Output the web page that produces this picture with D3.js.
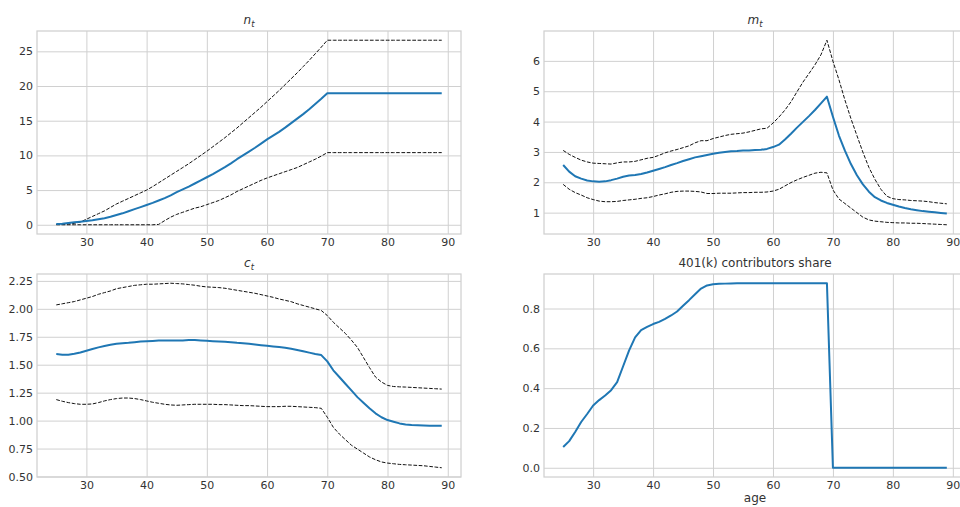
<!DOCTYPE html>
<html>
<head>
<meta charset="utf-8">
<script src="https://cdn.jsdelivr.net/npm/d3@7"></script>
<style>
  body { margin: 0; background: #fff; }
  svg { display: block; }
</style>
</head>
<body>
<div id="chart"></div>
<script>
// ages on the x axis (25 .. 89)
var ages = d3.range(25, 90);
var xTicks = [30, 40, 50, 60, 70, 80, 90];

// n_t : mean and bands
var nMean = [0.1, 0.15, 0.25, 0.35, 0.45,
  0.55, 0.65, 0.8, 0.95, 1.15,
  1.4, 1.65, 1.95, 2.25, 2.55,
  2.85, 3.15, 3.5, 3.85, 4.25,
  4.7, 5.1, 5.5, 5.95, 6.4,
  6.85, 7.3, 7.8, 8.3, 8.85,
  9.45, 10.0, 10.55, 11.1, 11.7,
  12.3, 12.85, 13.4, 14.0, 14.65,
  15.3, 15.95, 16.65, 17.4, 18.15,
  18.95, 18.95, 18.95, 18.95, 18.95,
  18.95, 18.95, 18.95, 18.95, 18.95,
  18.95, 18.95, 18.95, 18.95, 18.95,
  18.95, 18.95, 18.95, 18.95, 18.95];
var nUpper = [0.05, 0.08, 0.12, 0.2, 0.4,
  0.8, 1.2, 1.6, 2.0, 2.5,
  3.0, 3.4, 3.8, 4.2, 4.6,
  5.0, 5.5, 6.05, 6.6, 7.15,
  7.7, 8.25, 8.8, 9.4, 10.0,
  10.6, 11.25, 11.9, 12.55, 13.25,
  13.95, 14.7, 15.45, 16.2, 16.95,
  17.75, 18.55, 19.35, 20.2, 21.05,
  21.9, 22.8, 23.7, 24.65, 25.6,
  26.6, 26.6, 26.6, 26.6, 26.6,
  26.6, 26.6, 26.6, 26.6, 26.6,
  26.6, 26.6, 26.6, 26.6, 26.6,
  26.6, 26.6, 26.6, 26.6, 26.6];
var nLower = [0, 0, 0, 0, 0,
  0, 0, 0, 0, 0,
  0, 0, 0, 0, 0,
  0, 0, 0.05, 0.6, 1.1,
  1.5, 1.8, 2.1, 2.4, 2.6,
  2.9, 3.2, 3.5, 3.9, 4.3,
  4.8, 5.2, 5.6, 6.0, 6.4,
  6.75, 7.05, 7.35, 7.65, 7.95,
  8.25, 8.65, 9.05, 9.45, 9.9,
  10.4, 10.4, 10.4, 10.4, 10.4,
  10.4, 10.4, 10.4, 10.4, 10.4,
  10.4, 10.4, 10.4, 10.4, 10.4,
  10.4, 10.4, 10.4, 10.4, 10.4];

// m_t
var mMean = [2.57, 2.35, 2.2, 2.12, 2.06,
  2.03, 2.02, 2.03, 2.07, 2.12,
  2.18, 2.22, 2.24, 2.27, 2.32,
  2.38, 2.44, 2.5, 2.57, 2.63,
  2.7, 2.76, 2.82, 2.86, 2.9,
  2.94, 2.97, 3.0, 3.02, 3.03,
  3.05, 3.05, 3.06, 3.07, 3.1,
  3.16, 3.24, 3.41, 3.6, 3.8,
  3.99, 4.18, 4.38, 4.6, 4.82,
  4.16, 3.54, 3.04, 2.6, 2.23,
  1.93, 1.69, 1.51, 1.4, 1.32,
  1.26, 1.2, 1.15, 1.11, 1.08,
  1.05, 1.03, 1.01, 0.99, 0.97];
var mUpper = [3.05, 2.92, 2.82, 2.73, 2.67,
  2.63, 2.62, 2.61, 2.6, 2.64,
  2.67, 2.67, 2.69, 2.74, 2.79,
  2.82, 2.89, 2.97, 3.03, 3.08,
  3.14, 3.2, 3.3, 3.37, 3.37,
  3.44, 3.49, 3.54, 3.58, 3.6,
  3.62, 3.66, 3.71, 3.76, 3.78,
  3.95, 4.15, 4.38, 4.65, 4.98,
  5.3, 5.58, 5.87, 6.2, 6.68,
  5.99, 5.38, 4.71, 4.1, 3.54,
  2.99, 2.49, 2.1, 1.77, 1.54,
  1.46, 1.43, 1.42, 1.4, 1.39,
  1.38, 1.36, 1.33, 1.31, 1.29];
var mLower = [1.93, 1.77, 1.66, 1.58, 1.49,
  1.43, 1.38, 1.36, 1.36, 1.37,
  1.4, 1.42, 1.44, 1.47, 1.49,
  1.53, 1.58, 1.62, 1.67, 1.7,
  1.71, 1.71, 1.7, 1.68, 1.63,
  1.63, 1.64, 1.64, 1.64, 1.65,
  1.66, 1.66, 1.67, 1.67, 1.68,
  1.71, 1.77, 1.88, 1.99, 2.08,
  2.16, 2.23, 2.3, 2.33, 2.31,
  1.75, 1.45, 1.3, 1.15, 1.0,
  0.85, 0.76, 0.72, 0.7, 0.68,
  0.67, 0.66, 0.66, 0.65, 0.65,
  0.64, 0.63, 0.62, 0.61, 0.6];

// c_t
var cMean = [1.595, 1.59, 1.59, 1.598, 1.61,
  1.625, 1.64, 1.655, 1.667, 1.678,
  1.687, 1.693, 1.696, 1.702, 1.708,
  1.71, 1.713, 1.716, 1.716, 1.716,
  1.717, 1.717, 1.72, 1.72, 1.717,
  1.714, 1.711, 1.708, 1.705, 1.702,
  1.696, 1.693, 1.687, 1.681, 1.675,
  1.67, 1.664, 1.658, 1.652, 1.643,
  1.632, 1.62, 1.608, 1.596, 1.586,
  1.53, 1.45, 1.39, 1.33, 1.27,
  1.21, 1.16, 1.11, 1.065, 1.03,
  1.005, 0.99, 0.975, 0.966, 0.961,
  0.958, 0.956, 0.955, 0.955, 0.955];
var cUpper = [2.035, 2.045, 2.055, 2.065, 2.08,
  2.095, 2.11, 2.13, 2.145, 2.16,
  2.18, 2.19, 2.2, 2.21, 2.215,
  2.22, 2.22, 2.223, 2.226, 2.229,
  2.226, 2.223, 2.217, 2.211, 2.202,
  2.196, 2.193, 2.19, 2.184, 2.175,
  2.166, 2.157, 2.148, 2.139, 2.127,
  2.115, 2.103, 2.088, 2.076, 2.064,
  2.045, 2.03, 2.015, 2.0, 1.985,
  1.94, 1.88, 1.83, 1.78, 1.72,
  1.655, 1.565, 1.475, 1.39, 1.345,
  1.315, 1.305, 1.302, 1.3, 1.297,
  1.294, 1.291, 1.288, 1.285, 1.282];
var cLower = [1.188, 1.173, 1.161, 1.152, 1.146,
  1.146, 1.149, 1.161, 1.176, 1.188,
  1.197, 1.202, 1.202, 1.197, 1.188,
  1.176, 1.164, 1.155, 1.146, 1.14,
  1.137, 1.14, 1.143, 1.146, 1.146,
  1.146, 1.146, 1.143, 1.143, 1.14,
  1.137, 1.134, 1.134, 1.131, 1.128,
  1.125, 1.125, 1.125, 1.128, 1.128,
  1.125, 1.122, 1.119, 1.116, 1.11,
  1.03, 0.94, 0.88, 0.83, 0.78,
  0.745, 0.71, 0.675, 0.65, 0.63,
  0.62, 0.614, 0.608, 0.605, 0.602,
  0.599, 0.596, 0.59, 0.584, 0.578];

// 401(k) contributors share
var share = [0.104, 0.134, 0.18, 0.23, 0.27,
  0.313, 0.34, 0.363, 0.39, 0.43,
  0.51, 0.59, 0.655, 0.692, 0.708,
  0.722, 0.733, 0.748, 0.765, 0.785,
  0.814, 0.842, 0.872, 0.9, 0.916,
  0.922, 0.924, 0.925, 0.926, 0.927,
  0.927, 0.927, 0.927, 0.927, 0.927,
  0.927, 0.927, 0.927, 0.927, 0.927,
  0.927, 0.927, 0.927, 0.927, 0.927,
  0, 0, 0, 0, 0,
  0, 0, 0, 0, 0,
  0, 0, 0, 0, 0,
  0, 0, 0, 0, 0];

var nTicks = [0, 5, 10, 15, 20, 25];
var mTicks = [1, 2, 3, 4, 5, 6];
var cTicks = [0.5, 0.75, 1.0, 1.25, 1.5, 1.75, 2.0, 2.25];
var shareTicks = [0, 0.2, 0.4, 0.6, 0.8];

var FONT = "DejaVu Sans, sans-serif";
var GRID = "#d0d0d0";
var TEXT = "#333333";

var svg = d3.select("#chart").append("svg")
  .attr("width", 960)
  .attr("height", 507);
svg.append("rect").attr("width", 960).attr("height", 507).attr("fill", "#fff");

function padded(lo, hi) {
  var m = (hi - lo) * 0.05;
  return [lo - m, hi + m];
}

function drawPanel(opt) {
  var g = svg.append("g").attr("transform", "translate(" + opt.left + "," + opt.top + ")");
  var w = opt.width, h = opt.height;
  var all = [];
  opt.series.forEach(s => all = all.concat(s.values));
  var x = d3.scaleLinear().domain(padded(d3.min(ages), d3.max(ages))).range([0, w]);
  var y = d3.scaleLinear().domain(padded(d3.min(all), d3.max(all))).range([h, 0]);

  var xAxis = g.append("g")
    .attr("transform", "translate(0," + h + ")")
    .call(d3.axisBottom(x).tickValues(xTicks).tickSize(-h).tickPadding(4).tickFormat(d3.format("d")));
  var yAxis = g.append("g")
    .call(d3.axisLeft(y).tickValues(opt.yTicks).tickSize(-w).tickPadding(4).tickFormat(d3.format(opt.yFormat)));
  [xAxis, yAxis].forEach(a => {
    a.select(".domain").remove();
    a.attr("font-family", FONT).attr("font-size", 11);
    a.selectAll(".tick line").attr("stroke", GRID).attr("stroke-width", 1);
    a.selectAll(".tick text").attr("fill", TEXT);
  });

  opt.series.forEach(s => {
    g.append("path")
      .datum(s.values)
      .attr("fill", "none")
      .attr("stroke", s.color)
      .attr("stroke-width", s.width)
      .attr("stroke-dasharray", s.dash || null)
      .attr("stroke-linejoin", "round")
      .attr("d", d3.line()
        .x((d, i) => x(ages[i]))
        .y(d => y(d)));
  });

  g.append("rect")
    .attr("width", w).attr("height", h)
    .attr("fill", "none")
    .attr("stroke", GRID)
    .attr("stroke-width", 1.25);

  var t = g.append("text")
    .attr("x", w / 2).attr("y", -7)
    .attr("text-anchor", "middle")
    .attr("font-family", FONT).attr("font-size", 12)
    .attr("fill", TEXT);
  if (opt.sub) {
    t.append("tspan").attr("font-style", "italic").text(opt.title);
    t.append("tspan").attr("font-style", "italic").attr("font-size", 8.5).attr("dy", 3).text(opt.sub);
  } else {
    t.text(opt.title);
  }

  if (opt.xlabel) {
    g.append("text")
      .attr("x", w / 2).attr("y", h + 25)
      .attr("text-anchor", "middle")
      .attr("font-family", FONT).attr("font-size", 12)
      .attr("fill", TEXT)
      .text(opt.xlabel);
  }
}

function band(mean, upper, lower) {
  return [
    {values: upper, color: "#111", width: 1, dash: "3.7,1.6"},
    {values: lower, color: "#111", width: 1, dash: "3.7,1.6"},
    {values: mean, color: "#1f77b4", width: 2}
  ];
}

drawPanel({left: 37, top: 31, width: 424, height: 203, title: "n", sub: "t",
  series: band(nMean, nUpper, nLower), yTicks: nTicks, yFormat: "d"});
drawPanel({left: 544, top: 31, width: 422, height: 203, title: "m", sub: "t",
  series: band(mMean, mUpper, mLower), yTicks: mTicks, yFormat: "d"});
drawPanel({left: 37, top: 274, width: 424, height: 203, title: "c", sub: "t",
  series: band(cMean, cUpper, cLower), yTicks: cTicks, yFormat: ".2f"});
drawPanel({left: 544, top: 274, width: 422, height: 203, title: "401(k) contributors share",
  series: [{values: share, color: "#1f77b4", width: 2}], yTicks: shareTicks, yFormat: ".1f", xlabel: "age"});
</script>
</body>
</html>
